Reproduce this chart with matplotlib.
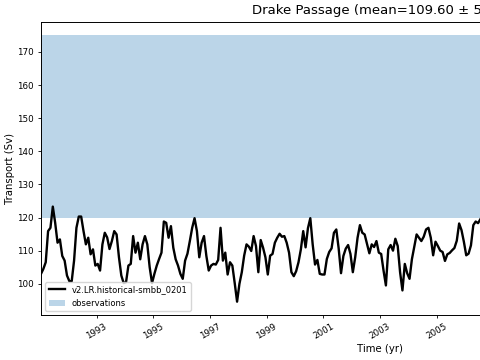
import numpy as np
import matplotlib
matplotlib.use('Agg')
import matplotlib.pyplot as plt

# monthly transport (Sv), from mid-Jan 1991 on
start_year = 1991
end_year = 2015
transport = [
    103, 104.5, 106.5, 115.9, 116.9, 123.3, 118.4, 112.4, 113.4, 108.4, 107, 102.5,
    100.8, 100.8, 107, 116.9, 120.3, 120.3, 115.9, 111.9, 113.9, 108.9, 110.4, 105.5,
    106, 104, 111.9, 115.4, 114, 110.5, 112.9, 115.9, 114.9, 108, 102.5, 100.2,
    100.5, 105.5, 106, 114.4, 109.4, 112.4, 107.4, 111.9, 114.4, 111.9, 105, 100.2,
    103, 105.5, 107.5, 109.4, 118.8, 118.4, 113.9, 117.4, 110.9, 107.4, 105.5, 103,
    101.5, 107, 109.1, 112.9, 116.9, 119.8, 115.9, 108, 112.4, 114.4, 108.4, 104,
    105.5, 106, 105.8, 107.2, 116.9, 107, 109.4, 102.8, 106.5, 105.5, 100.2, 94.6,
    100, 103.5, 108.5, 111.9, 111.2, 109.9, 114.4, 111.4, 103.5, 113.2, 110.9, 108,
    102.8, 108.5, 109, 112.4, 113.9, 115.1, 114.2, 114.4, 112.4, 109.4, 103.5, 102.3,
    103.8, 106.5, 110.4, 115.9, 111, 116.8, 119.8, 111.9, 105.8, 107.2, 103, 102.8,
    102.8, 107.5, 109.6, 110.7, 115.4, 116.4, 110.7, 103.2, 108.4, 110.6, 111.7, 109,
    103.5, 108, 113.9, 117.7, 115.4, 114.9, 112.1, 109.2, 111.9, 111.1, 112.9, 109.4,
    109, 104, 99.5, 110.4, 111.7, 110, 113.6, 111.4, 103.5, 98, 106, 103.2,
    101.5, 107.4, 111.1, 114.9, 113.9, 112.9, 114.2, 116.4, 116.9, 113.9, 108.6, 112.7,
    111.4, 110, 109.6, 106.9, 108.9, 109.3, 110.1, 110.8, 113, 118.2, 116.2, 112.7,
    108.6, 109.1, 111.6, 117.7, 118.8, 118.3, 119.5,
]
obs_lower = 120.0
obs_upper = 175.0
run_name = 'v2.LR.historical-smbb_0201'
title = 'Drake Passage (mean=109.60 \u00b1 5.52)'
tick_years = [1993, 1995, 1997, 1999, 2001, 2003, 2005]

time = start_year + (np.arange(len(transport)) + 0.5) / 12.
t_first = start_year + 0.5 / 12.
t_last = end_year - 0.5 / 12.

fig = plt.figure(figsize=(4.8, 3.6), dpi=100)
# the axes runs past the right edge of the picture, as in the cropped original
ax = fig.add_axes([41 / 480, 45 / 360, 678 / 480, 293 / 360])

ax.plot(time, transport, color='k', linewidth=1.7, label=run_name)
ax.fill_between([t_first, t_last], obs_lower, obs_upper, alpha=0.3,
                label='observations')
ax.set_xlim(t_first, t_last)

ax.set_xticks(tick_years)
ax.set_xticklabels([str(y) for y in tick_years], rotation=30, ha='center')
ax.tick_params(labelsize=6.3, length=2.5, width=0.6, pad=2.5)
for s in ax.spines.values():
    s.set_linewidth(0.7)

ax.set_xlabel('Time (yr)', fontsize=7.3, labelpad=2)
ax.set_ylabel('Transport (Sv)', fontsize=7.3, labelpad=2)
ax.set_title(title, fontsize=9.5)
ax.legend(loc='lower left', fontsize=6)

fig.savefig('out.png', dpi=100)
